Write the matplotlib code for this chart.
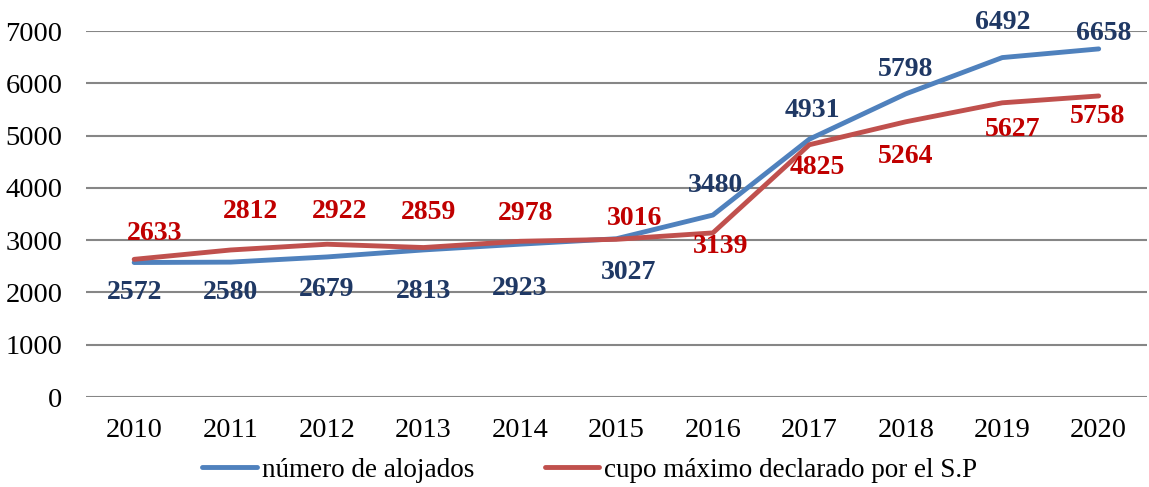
import matplotlib.pyplot as plt

# datos
years = ['2010', '2011', '2012', '2013', '2014', '2015', '2016', '2017', '2018', '2019', '2020']
alojados = [2572, 2580, 2679, 2813, 2923, 3027, 3480, 4931, 5798, 6492, 6658]
cupo = [2633, 2812, 2922, 2859, 2978, 3016, 3139, 4825, 5264, 5627, 5758]

# desplazamiento de etiquetas (pixeles, y hacia abajo)
off_alojados = [(0, 30), (0, 30), (0, 33), (0, 42), (0, 44), (12, 34),
                (3, -30), (3, -29), (0, -24), (0, -35), (5, -15)]
off_cupo = [(20, -26), (20, -38), (13, -33), (5, -35), (6, -28), (18, -21),
            (8, 14), (8, 23), (0, 35), (10, 27), (-1, 21)]

plt.rcParams['font.family'] = ['Liberation Serif', 'DejaVu Serif']

fig = plt.figure(figsize=(11.49, 4.87), dpi=100)
ax = fig.add_axes([0.0748, 0.1848, 0.9234, 0.7515])

x = range(len(years))
ax.plot(x, alojados, color='#4F81BD', lw=3.5, solid_capstyle='round', label='número de alojados')
ax.plot(x, cupo, color='#C0504D', lw=3.5, solid_capstyle='round', label='cupo máximo declarado por el S.P')

px = 0.72  # puntos por pixel
for i, v in enumerate(alojados):
    dx, dy = off_alojados[i]
    ax.annotate(str(v), (i, v), xytext=(dx * px, -dy * px), textcoords='offset points',
                ha='center', va='center', fontsize=20, fontweight='bold', color='#1F3864')
for i, v in enumerate(cupo):
    dx, dy = off_cupo[i]
    ax.annotate(str(v), (i, v), xytext=(dx * px, -dy * px), textcoords='offset points',
                ha='center', va='center', fontsize=20, fontweight='bold', color='#C00000')

ax.set_xlim(-0.5, len(years) - 0.5)
ax.set_ylim(0, 7000)
ax.set_yticks(range(0, 7001, 1000))
ax.set_xticks(list(x))
ax.set_xticklabels(years)
ax.yaxis.grid(True, color='#868686', lw=1.5)
ax.set_axisbelow(True)
for s in ax.spines.values():
    s.set_visible(False)
ax.tick_params(length=0, labelsize=20.5, colors='black')
ax.tick_params(axis='y', pad=17)
ax.tick_params(axis='x', pad=15)

ax.legend(loc='center', bbox_to_anchor=(0.475, -0.2), ncol=2, frameon=False,
          fontsize=19.5, handlelength=2.0, handletextpad=0.2, columnspacing=2.6)

plt.savefig('out.png', dpi=100)
